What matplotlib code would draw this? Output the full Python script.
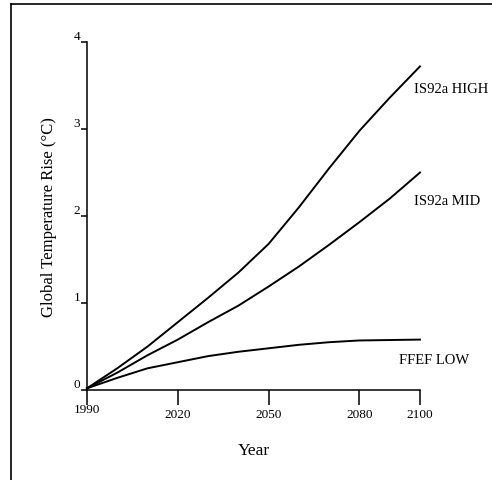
import matplotlib
matplotlib.use("Agg")
import matplotlib.pyplot as plt
from matplotlib.lines import Line2D
import matplotlib.transforms as mtransforms

# values
years = [1990, 2000, 2010, 2020, 2030, 2040, 2050, 2060, 2070, 2080, 2090, 2100]
is92a_high = [0.02, 0.25, 0.50, 0.78, 1.06, 1.35, 1.68, 2.10, 2.55, 2.98, 3.36, 3.72]
is92a_mid = [0.02, 0.20, 0.40, 0.58, 0.78, 0.97, 1.19, 1.42, 1.67, 1.93, 2.20, 2.50]
ffef_low = [0.02, 0.14, 0.25, 0.32, 0.39, 0.44, 0.48, 0.52, 0.55, 0.57, 0.575, 0.58]

xticks = [1990, 2020, 2050, 2080, 2100]
yticks = [0, 1, 2, 3, 4]
series_labels = ["IS92a HIGH", "IS92a MID", "FFEF LOW"]

plt.rcParams['font.family'] = ['Liberation Serif', 'DejaVu Serif']

fig = plt.figure(figsize=(4.92, 4.81), dpi=100)
ax = fig.add_axes([0.1768, 0.187, 0.6768, 0.7235])

for vals in (is92a_high, is92a_mid, ffef_low):
    ax.plot(years, vals, color='black', lw=1.4, clip_on=False)

ax.set_xlim(1990, 2100)
ax.set_ylim(0, 4)
ax.spines['top'].set_visible(False)
ax.spines['right'].set_visible(False)
ax.spines['left'].set_linewidth(1.1)
ax.spines['bottom'].set_linewidth(1.1)

ax.set_xticks(xticks)
ax.set_xticklabels([str(x) for x in xticks], fontsize=9.5)
ax.set_yticks(yticks)
ax.set_yticklabels([str(y) for y in yticks], fontsize=9.5)
ax.tick_params(axis='x', direction='out', length=11, width=1.1, pad=2)
ax.tick_params(axis='y', direction='out', length=4, width=1.1, pad=1)
for t in ax.get_yticklabels():
    t.set_va('bottom')
# 1990 sits a little higher than the other year labels
lab0 = ax.get_xticklabels()[0]
lab0.set_transform(lab0.get_transform() + mtransforms.ScaledTranslation(0, 4 / 72, fig.dpi_scale_trans))

ax.set_xlabel("Year", fontsize=12.5, labelpad=16)
ax.set_ylabel("Global Temperature Rise (°C)", fontsize=12, labelpad=12)

ax.text(2098, 3.47, series_labels[0], fontsize=10.5, va='center', ha='left')
ax.text(2098, 2.18, series_labels[1], fontsize=10.5, va='center', ha='left')
ax.text(2093, 0.35, series_labels[2], fontsize=10.5, va='center', ha='left')

# partial frame around the figure (left and top edges)
fig.add_artist(Line2D([0.0224, 0.0224], [0.0, 0.9896], color='black', lw=1.2))
fig.add_artist(Line2D([0.0224, 1.0], [0.9896, 0.9896], color='black', lw=1.2))

fig.savefig("out.png", dpi=100)
